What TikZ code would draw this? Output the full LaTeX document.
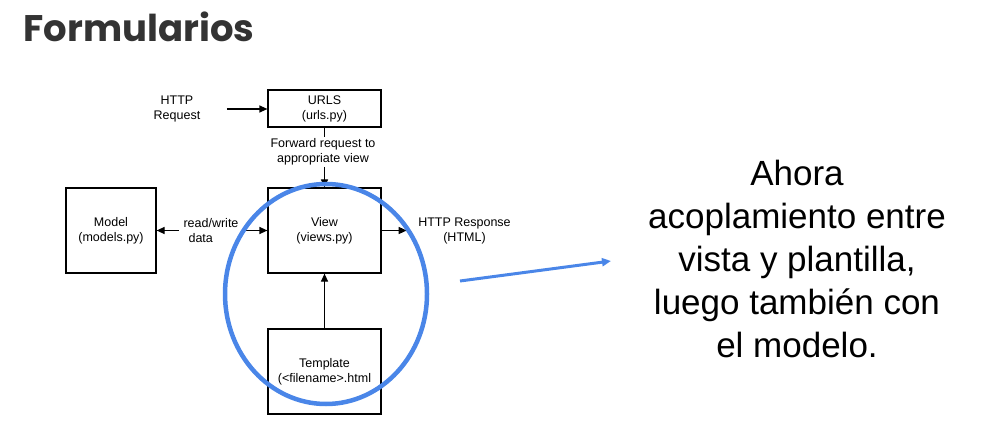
\documentclass[tikz,border=0pt]{standalone}
\usepackage{fontspec}
\setmainfont{Liberation Sans}
\newfontfamily\titlefont{Poppins}
\usetikzlibrary{arrows.meta,calc}
\definecolor{hiblue}{HTML}{4A86E8}
\definecolor{titlegray}{HTML}{333333}

\begin{document}
\begin{tikzpicture}[x=1pt, y=-1pt, line width=1.2pt,
  box/.style={draw, minimum width=113pt, minimum height=85pt, inner sep=0pt,
    align=center, font=\fontsize{12.5}{15}\selectfont},
  lbl/.style={align=center, inner sep=1pt, font=\fontsize{12.5}{15}\selectfont},
  arr/.style={-{Triangle[length=8pt,width=7pt]}}]
  \useasboundingbox (0,0) rectangle (1000,438);

  \node[anchor=base west, inner sep=0pt, text=titlegray,
    font=\titlefont\bfseries\fontsize{37}{40}\selectfont] (title) at (23,42) {Formularios};

  % cajas
  \node[box, minimum height=37pt] (urls) at (324.5,108.5) {URLS\\(urls.py)};
  \node[box] (view) at (324.5,230.5) {View\\(views.py)};
  \node[box, minimum width=90pt] (model) at (111,230.5) {Model\\(models.py)};
  \node[box] (tmpl) at (324.5,371.5) {Template\\(<filename>.html};

  % etiquetas
  \node[lbl] (req) at (177,109) {HTTP\\Request};
  \node[lbl] (fwd) at (323,152) {Forward request to\\appropriate view};
  \node[lbl, align=left] (rw) at (211,230.5) {read/write\\\hspace{5pt}data};
  \node[lbl] (resp) at (464.5,230.5) {HTTP Response\\(HTML)};

  \draw[arr, shorten <=25pt] (req.east) -- (req.east -| urls.west);
  \draw (urls.south) -- (urls.south |- fwd.north);
  \draw[arr] (view.north |- fwd.south) -- (view.north);
  \draw[arr, shorten <=3pt] (rw.west) -- (rw.west -| model.east);
  \draw[arr, shorten <=3pt] (rw.east) -- (rw.east -| view.west);
  \draw[arr, shorten >=10pt] (view.east) -- (view.east -| resp.west);
  \draw[arr] (tmpl) -- (view);

  % resaltado
  \draw[hiblue, line width=4.5pt] (326,294) ellipse [x radius=101, y radius=110];
  \coordinate (a0) at (460,281);
  \coordinate (a1) at (611,261);
  \draw[hiblue, line width=3pt, -{Triangle[length=9pt,width=8pt]}] (a0) -- (a1);

  \node[font=\fontsize{35}{43}\selectfont, align=center, anchor=north, inner sep=0pt]
    (note) at (797,160) {Ahora\\acoplamiento entre\\vista y plantilla,\\luego también con\\el modelo.};
\end{tikzpicture}
\end{document}
